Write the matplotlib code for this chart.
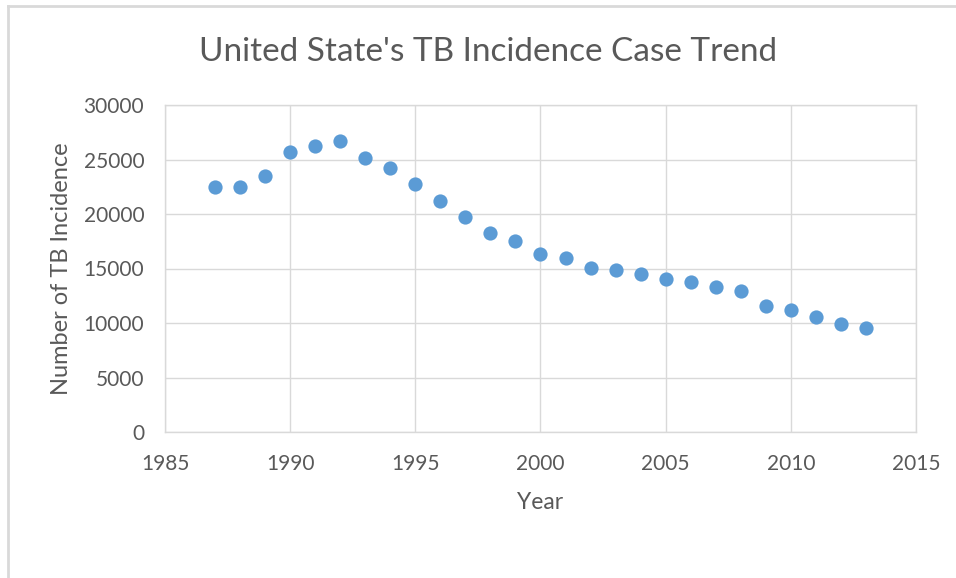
import matplotlib
matplotlib.use("Agg")
import matplotlib.pyplot as plt
from matplotlib.lines import Line2D

years = [1987, 1988, 1989, 1990, 1991, 1992, 1993, 1994, 1995, 1996, 1997, 1998, 1999,
         2000, 2001, 2002, 2003, 2004, 2005, 2006, 2007, 2008, 2009, 2010, 2011, 2012, 2013]
cases = [22517, 22436, 23495, 25701, 26283, 26673, 25102, 24206, 22727, 21210, 19751,
         18286, 17500, 16309, 15945, 15055, 14835, 14499, 14065, 13727, 13282, 12895,
         11523, 11163, 10509, 9941, 9582]
x_ticks = [1985, 1990, 1995, 2000, 2005, 2010, 2015]
y_ticks = [0, 5000, 10000, 15000, 20000, 25000, 30000]

plt.rcParams['font.family'] = ['Lato', 'DejaVu Sans']
txt = '#595959'
grid = '#D9D9D9'

W, H = 956, 578
fig = plt.figure(figsize=(W / 100, H / 100), dpi=100)
ax = fig.add_axes([165 / W, 1 - 432 / H, (916 - 165) / W, (432 - 105) / H])

ax.scatter(years, cases, s=105, color='#5B9BD5', zorder=3, linewidths=0)
ax.set_xlim(1985, 2015)
ax.set_ylim(0, 30000)
ax.set_xticks(x_ticks)
ax.set_yticks(y_ticks)
ax.grid(True, color=grid, linewidth=1)
ax.set_axisbelow(True)
for s in ax.spines.values():
    s.set_color(grid)
    s.set_linewidth(1)
ax.tick_params(length=0, colors=txt, labelsize=15)
ax.tick_params(axis='x', pad=16)
ax.tick_params(axis='y', pad=15)

ax.set_xlabel('Year', fontsize=16.5, color=txt, labelpad=13)
ax.set_ylabel('Number of TB Incidence', fontsize=17, color=txt, labelpad=8)
fig.text(488 / W, 1 - 52 / H, "United State's TB Incidence Case Trend",
         ha='center', va='center', fontsize=24, color=txt)

# chart border
fig.add_artist(Line2D([8 / W, 8 / W], [0, 1 - 6 / H], color=grid, linewidth=2))
fig.add_artist(Line2D([8 / W, 1], [1 - 6 / H, 1 - 6 / H], color=grid, linewidth=2))

fig.savefig('out.png', dpi=100)
